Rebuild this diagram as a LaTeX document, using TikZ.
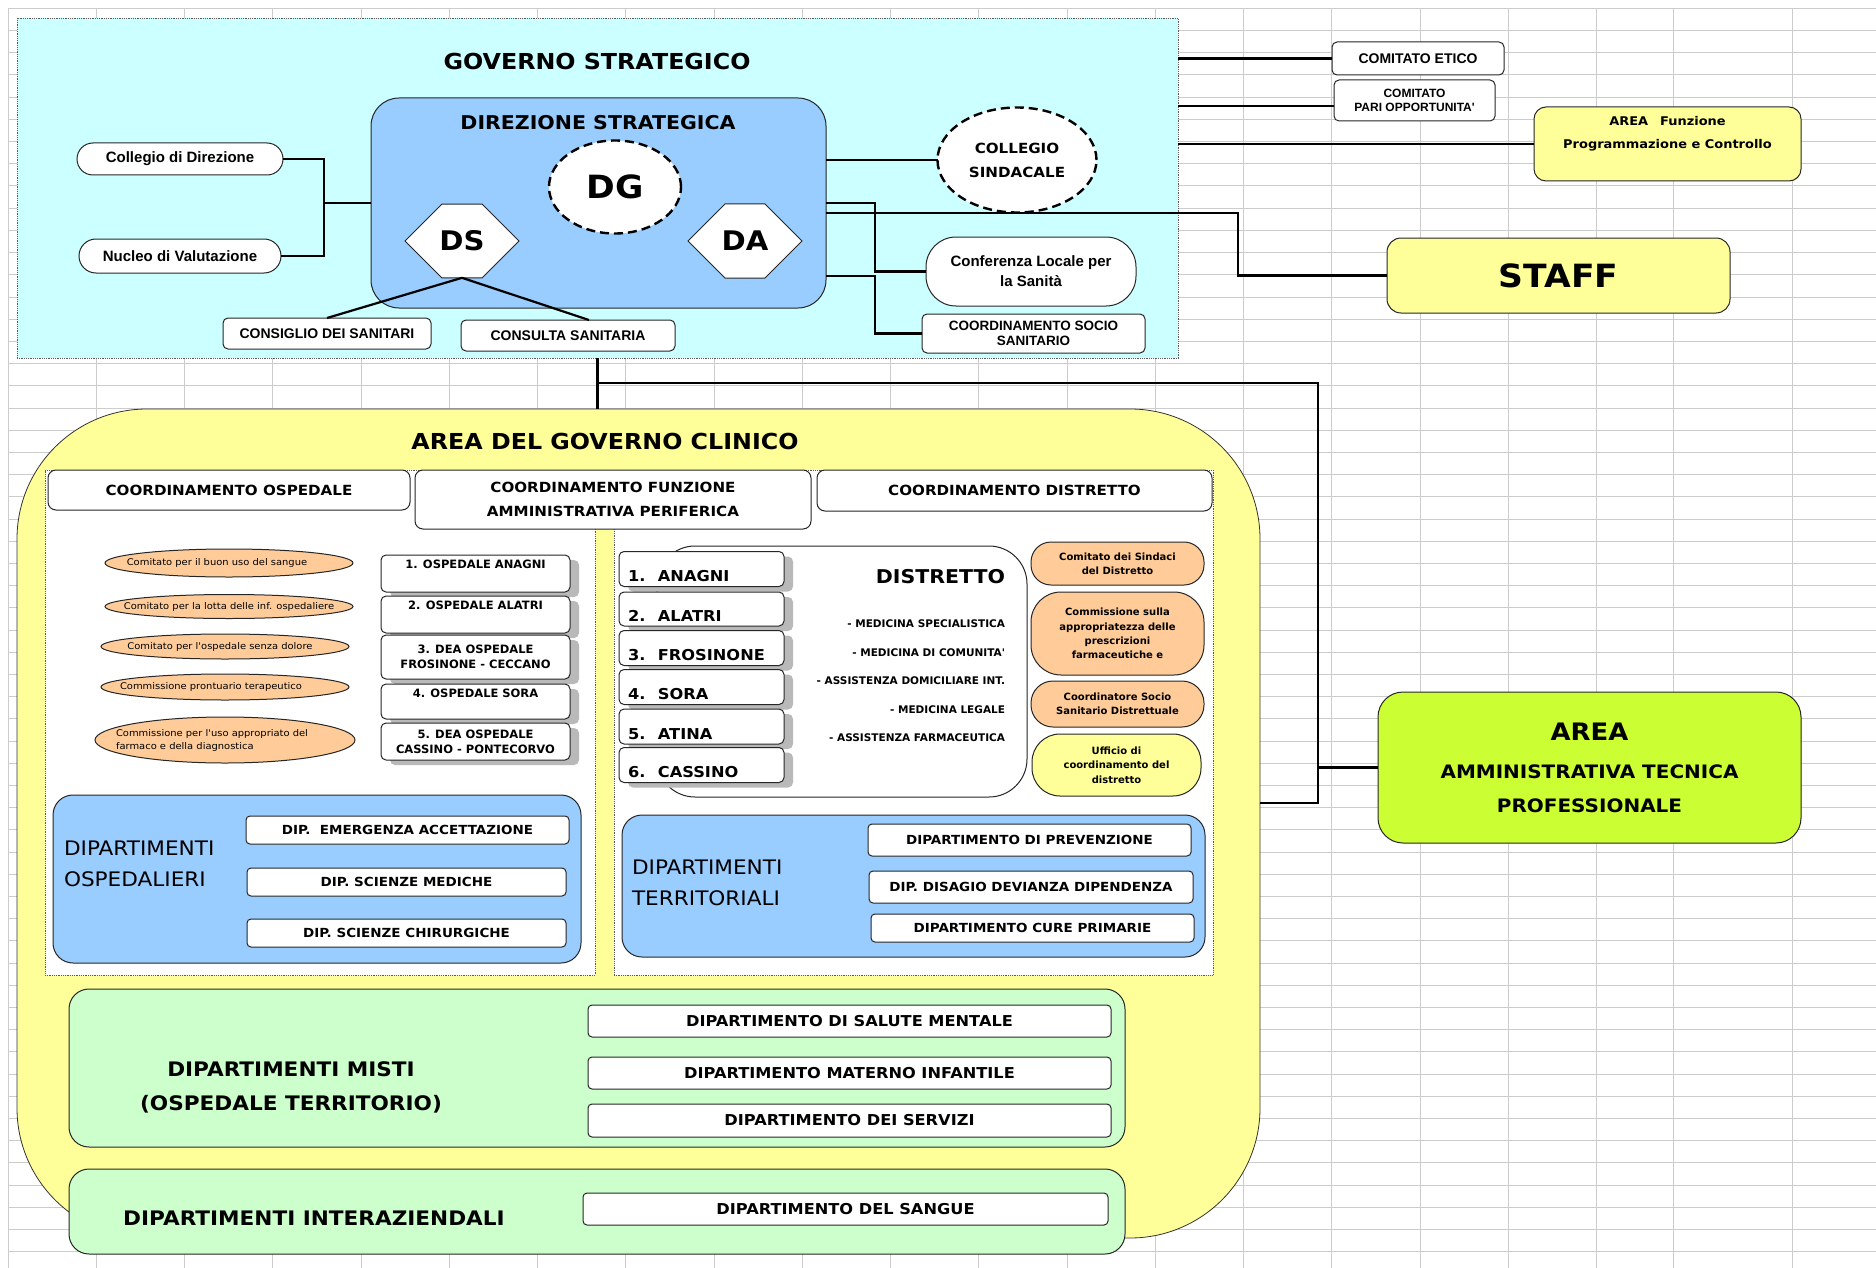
\documentclass[tikz,border=0pt]{standalone}
\usepackage{fontspec}
\newfontfamily\comicfont{DejaVu Sans}[FakeStretch=1.08]
\newfontfamily\arialfont{Liberation Sans}
\newfontfamily\verdfont{DejaVu Sans}
\usepackage{tikz}
\usetikzlibrary{shapes.geometric,shapes.misc,shadows}
\definecolor{cyanbg}{HTML}{CCFFFF}
\definecolor{bluebg}{HTML}{99CCFF}
\definecolor{yellowbg}{HTML}{FFFF99}
\definecolor{limebg}{HTML}{CCFF33}
\definecolor{orangebg}{HTML}{FFCC99}
\definecolor{greenbg}{HTML}{CCFFCC}

\begin{document}
\begin{tikzpicture}[x=1pt,y=-1pt,
  every node/.style={outer sep=0pt,inner sep=2pt},
  comicb/.style 2 args={font=\comicfont\bfseries\fontsize{#1}{#2}\selectfont},
  comicr/.style 2 args={font=\comicfont\fontsize{#1}{#2}\selectfont},
  arialb/.style 2 args={font=\arialfont\bfseries\fontsize{#1}{#2}\selectfont},
  verdb/.style 2 args={font=\verdfont\bfseries\fontsize{#1}{#2}\selectfont},
  gridline/.style={draw=gray!40,line width=1pt},
  conn/.style={draw=black,line width=2.2pt},
  panel/.style={draw=gray!70!black,densely dotted,line width=0.8pt},
  wbox/.style={draw=black!85,line width=1pt,fill=white,rounded corners=5pt},
  shadowbox/.style={wbox,drop shadow={shadow xshift=9pt,shadow yshift=-5pt,fill=gray!55,opacity=1}},
  dashring/.style={ellipse,draw=black,fill=white,line width=2.4pt,dash pattern=on 9pt off 5pt},
  hexa/.style={chamfered rectangle,chamfered rectangle xsep=27pt,chamfered rectangle ysep=33pt,
    draw=black!85,line width=1pt,fill=white,minimum width=114pt,minimum height=66pt,comicb={27}{30}},
  oval/.style={ellipse,draw=black!85,line width=1pt,fill=orangebg,inner xsep=-24pt,inner ysep=0pt,
    comicr={9.2}{13},align=left},
  hospbox/.style={shadowbox,minimum width=189pt,verdb={11.5}{15},align=center},
  numbox/.style={shadowbox,minimum width=165pt,minimum height=35pt,text width=147pt,inner xsep=9pt,
    align=left,text height=27pt,text depth=2pt,comicb={15}{18}},
  obox/.style={wbox,fill=orangebg,minimum width=173pt,verdb={10}{14.3},align=center},
  deptbox/.style={wbox,rounded corners=4pt,comicb={12.5}{15}},
  bigdept/.style={wbox,rounded corners=4pt,minimum width=523pt,minimum height=32pt,comicb={15}{18}}]
\fill[white] (0,0) rectangle (1876,1268);
\useasboundingbox (0,0) rectangle (1876,1268);
\foreach \r in {0,...,56}
  \draw[gridline] (8,{8.4+22.2*\r}) -- (1876,{8.4+22.2*\r});
\foreach \c in {8,96.3,184.5,272.8,361,449.3,537.5,625.8,714,802.3,890.5,978.8,1067,1155.3,1243.5,1331.8,1420,1508.3,1596.5,1673,1792}
  \draw[gridline] (\c,8.4) -- (\c,1268);

\node[panel,fill=cyanbg,minimum width=1161pt,minimum height=340pt] (gov) at (597.5,188) {};
\node[comicb={22}{26}] (govtitle) at (597,61) {GOVERNO STRATEGICO};
\node[wbox,fill=bluebg,rounded corners=28pt,minimum width=455pt,minimum height=210pt] (dir) at (598.5,203) {};
\node[comicb={19}{22}] (dirtitle) at (598,123) {DIREZIONE STRATEGICA};
\node[dashring,minimum width=132pt,minimum height=93pt,comicb={32}{36}] (dg) at (615,187) {DG};
\node[hexa] (ds) at (462,241) {DS};
\node[hexa] (da) at (745,241) {DA};

\node[wbox,rounded corners=16pt,minimum width=206pt,minimum height=32pt,arialb={15}{18}] (colldir) at (180,159) {Collegio di Direzione};
\node[wbox,rounded corners=17pt,minimum width=202pt,minimum height=34pt,arialb={15}{18}] (nucleo) at (180,256) {Nucleo di Valutazione};
\node[dashring,minimum width=159pt,minimum height=105pt,comicb={14}{24},align=center] (cs) at (1017,160) {COLLEGIO\\SINDACALE};
\node[wbox,rounded corners=30pt,minimum width=210pt,minimum height=69pt,arialb={15}{20},align=center] (conf) at (1031,271.5) {Conferenza Locale per\\la Sanità};
\node[wbox,minimum width=223pt,minimum height=39pt,arialb={13.5}{15.5},align=center] (css) at (1033.5,333.5) {COORDINAMENTO SOCIO\\SANITARIO};
\node[wbox,minimum width=208pt,minimum height=31pt,arialb={14}{16}] (consiglio) at (327,333.5) {CONSIGLIO DEI SANITARI};
\node[wbox,minimum width=214pt,minimum height=31pt,arialb={14}{16}] (consulta) at (568,335.5) {CONSULTA SANITARIA};

\node[wbox,minimum width=172pt,minimum height=33pt,arialb={14}{16}] (etico) at (1418,58.5) {COMITATO ETICO};
\node[wbox,minimum width=161pt,minimum height=41pt,arialb={12}{14},align=center] (pari) at (1414.5,100.5) {COMITATO\\PARI OPPORTUNITA'};
\node[wbox,fill=yellowbg,rounded corners=12pt,minimum width=267pt,minimum height=74pt,comicb={12}{23},align=center] (areafun) at (1667.5,144) {AREA\quad Funzione\\Programmazione e Controllo\\~};
\node[wbox,fill=yellowbg,rounded corners=14pt,minimum width=343pt,minimum height=75pt,comicb={32}{36}] (staff) at (1558.5,275.5) {STAFF};

\coordinate (jl) at (324,203);
\coordinate (jr) at (875,203);
\coordinate (jr2) at (875,276);
\coordinate (js) at (1238,213);
\coordinate (pw) at ([yshift=-5.5pt]pari.west);
\draw[conn] (colldir.east) -| (jl) |- (nucleo.east);
\draw[conn] (jl) -- (jl -| dir.west);
\draw[conn] (dir.east |- cs.west) -- (cs.west);
\draw[conn] (dir.east |- jr) -- (jr) |- (conf.west);
\draw[conn] (dir.east |- jr2) -- (jr2) |- (css.west);
\draw[conn] (dir.east |- js) -- (js) |- (staff.west);
\draw[conn] (ds.south) -- (consiglio.north);
\draw[conn] (ds.south) -- ([xshift=21pt]consulta.north);
\draw[conn] (gov.east |- etico.west) -- (etico.west);
\draw[conn] (gov.east |- pw) -- (pw);
\draw[conn] (gov.east |- areafun.west) -- (areafun.west);

\node[fill=yellowbg,draw=black!80,line width=0.8pt,rounded corners=130pt,minimum width=1243pt,minimum height=829pt] (clin) at (638.5,823.5) {};
\node[comicb={22}{26}] (clintitle) at (605,441) {AREA DEL GOVERNO CLINICO};
\node[wbox,fill=limebg,rounded corners=25pt,minimum width=423pt,minimum height=151pt,comicb={18.5}{34},align=center] (atp) at (1589.5,767.5) {{\fontsize{24}{28}\selectfont AREA}\\[4pt]AMMINISTRATIVA TECNICA\\PROFESSIONALE};

\coordinate (br) at (597.5,383);
\coordinate (rb) at (1318,803);
\draw[conn] (gov.south) -- (gov.south |- clin.north);
\draw[conn] (br) -| (rb) -- (rb -| clin.east);
\draw[conn] (rb |- atp.west) -- (atp.west);

\node[panel,fill=white,minimum width=550pt,minimum height=505pt] (osp) at (320,722.5) {};
\node[panel,fill=white,minimum width=599pt,minimum height=505pt] (ter) at (913.5,722.5) {};
\node[wbox,rounded corners=8pt,minimum width=362pt,minimum height=40pt,comicb={14}{16}] (hosp) at (229,490) {COORDINAMENTO OSPEDALE};
\node[wbox,rounded corners=8pt,minimum width=396pt,minimum height=59pt,comicb={14}{24},align=center] (funz) at (613,499.5) {COORDINAMENTO FUNZIONE\\AMMINISTRATIVA PERIFERICA};
\node[wbox,rounded corners=8pt,minimum width=395pt,minimum height=41pt,comicb={14}{16}] (hdistr) at (1014.5,490.5) {COORDINAMENTO DISTRETTO};

\node[oval,minimum width=248pt,minimum height=28pt] (e1) at (229,563) {Comitato per il buon uso del sangue\hspace*{24pt}};
\node[oval,minimum width=248pt,minimum height=24pt] (e2) at (229,606.5) {Comitato per la lotta delle inf. ospedaliere};
\node[oval,minimum width=248pt,minimum height=25pt] (e3) at (225,646.5) {Comitato per l'ospedale senza dolore\hspace*{10pt}};
\node[oval,minimum width=248pt,minimum height=26pt] (e4) at (225,687) {Commissione prontuario terapeutico\hspace*{28pt}};
\node[oval,minimum width=260pt,minimum height=46pt] (e5) at (225,740) {Commissione per l'uso appropriato del\hspace*{26pt}\\farmaco e della diagnostica};

\node[hospbox,minimum height=37pt,text height=9pt,text depth=20pt] (h1) at (475.5,573.5) {1. OSPEDALE ANAGNI};
\node[hospbox,minimum height=37pt,text height=9pt,text depth=20pt] (h2) at (475.5,614.5) {2. OSPEDALE ALATRI};
\node[hospbox,minimum height=44pt] (h3) at (475.5,657) {3. DEA OSPEDALE\\FROSINONE - CECCANO};
\node[hospbox,minimum height=35pt,text height=9pt,text depth=18pt] (h4) at (475.5,701.5) {4. OSPEDALE SORA};
\node[hospbox,minimum height=37pt] (h5) at (475.5,741.5) {5. DEA OSPEDALE\\CASSINO - PONTECORVO};

\node[wbox,fill=bluebg,rounded corners=20pt,minimum width=528pt,minimum height=168pt] (dosp) at (317,879) {};
\node[comicr={20}{31},align=left,anchor=west] (dosptxt) at (62,863.5) {DIPARTIMENTI\\OSPEDALIERI};
\node[deptbox,minimum width=323pt,minimum height=28pt] (emerg) at (407.5,830) {DIP.~ EMERGENZA ACCETTAZIONE};
\node[deptbox,minimum width=319pt,minimum height=28pt] (medic) at (406.5,882) {DIP. SCIENZE MEDICHE};
\node[deptbox,minimum width=319pt,minimum height=28pt] (chir) at (406.5,933) {DIP. SCIENZE CHIRURGICHE};

\node[wbox,rounded corners=38pt,minimum width=370pt,minimum height=251pt] (distr) at (842,671.5) {};
\node[numbox] (n1) at (701.5,569) {1.~ ANAGNI};
\node[numbox,minimum height=34pt] (n2) at (701.5,609) {2.~ ALATRI};
\node[numbox] (n3) at (701.5,648) {3.~ FROSINONE};
\node[numbox] (n4) at (701.5,687) {4.~ SORA};
\node[numbox] (n5) at (701.5,726.5) {5.~ ATINA};
\node[numbox] (n6) at (701.5,765) {6.~ CASSINO};
\node[comicb={19}{22},anchor=east] (distrtitle) at (1007,577) {DISTRETTO};
\node[verdb={10.5}{28.5},align=right,anchor=east] (servizi) at (1007,681) {- MEDICINA SPECIALISTICA\\- MEDICINA DI COMUNITA'\\- ASSISTENZA DOMICILIARE INT.\\- MEDICINA LEGALE\\- ASSISTENZA FARMACEUTICA};

\node[obox,rounded corners=20pt,minimum height=43pt] (sindaci) at (1117.5,563.5) {Comitato dei Sindaci\\del Distretto};
\node[obox,rounded corners=30pt,minimum height=83pt] (commiss) at (1117.5,633.5) {Commissione sulla\\appropriatezza delle\\prescrizioni\\farmaceutiche e};
\node[obox,rounded corners=22pt,minimum height=46pt] (coordss) at (1117.5,704) {Coordinatore Socio\\Sanitario Distrettuale};
\node[obox,fill=yellowbg,rounded corners=28pt,minimum width=169pt,minimum height=62pt] (ufficio) at (1116.5,765) {Ufficio di\\coordinamento del\\distretto};

\node[wbox,fill=bluebg,rounded corners=20pt,minimum width=583pt,minimum height=142pt] (dter) at (913.5,886) {};
\node[comicr={20}{31},align=left,anchor=west] (dtertxt) at (630,882.5) {DIPARTIMENTI\\TERRITORIALI};
\node[deptbox,minimum width=323pt,minimum height=32pt] (prev) at (1029.5,840) {DIPARTIMENTO DI PREVENZIONE};
\node[deptbox,minimum width=324pt,minimum height=32pt] (disagio) at (1031,887) {DIP. DISAGIO DEVIANZA DIPENDENZA};
\node[deptbox,minimum width=323pt,minimum height=28pt] (cure) at (1032.5,928) {DIPARTIMENTO CURE PRIMARIE};

\node[wbox,fill=greenbg,rounded corners=20pt,minimum width=1056pt,minimum height=158pt] (misti) at (597,1068) {};
\node[comicb={20}{34},align=center] (mistitxt) at (291,1087) {DIPARTIMENTI MISTI\\(OSPEDALE TERRITORIO)};
\node[bigdept] (salute) at (849.5,1021) {DIPARTIMENTO DI SALUTE MENTALE};
\node[bigdept] (materno) at (849.5,1073) {DIPARTIMENTO MATERNO INFANTILE};
\node[bigdept,minimum height=33pt] (dserv) at (849.5,1120.5) {DIPARTIMENTO DEI SERVIZI};

\node[wbox,fill=greenbg,rounded corners=20pt,minimum width=1056pt,minimum height=85pt] (inter) at (597,1211.5) {};
\node[comicb={20}{24}] (intertxt) at (314,1218) {DIPARTIMENTI INTERAZIENDALI};
\node[bigdept,minimum width=525pt] (sangue) at (845.5,1209) {DIPARTIMENTO DEL SANGUE};
\end{tikzpicture}
\end{document}
